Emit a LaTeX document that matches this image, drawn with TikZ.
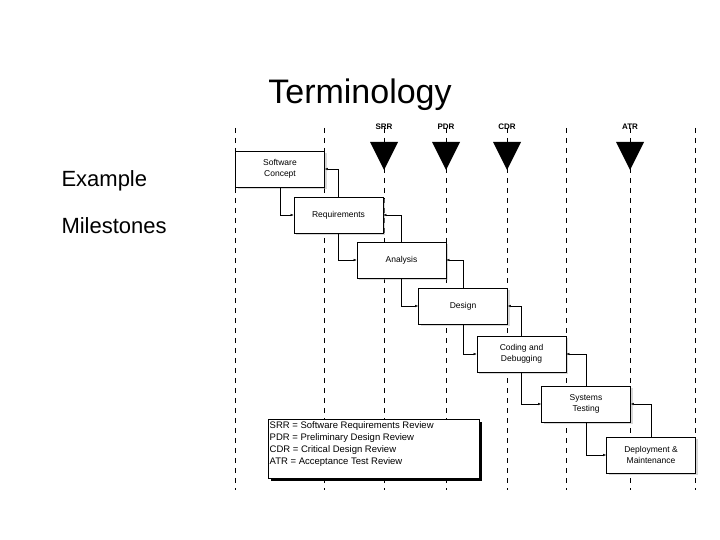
\documentclass[tikz,border=0pt]{standalone}
\usepackage{fontspec}
\setmainfont{Liberation Sans}
\usetikzlibrary{shadows,arrows.meta}
\begin{document}
\begin{tikzpicture}[x=1pt,y=-1pt,
  box/.style={draw,thick,fill=white,minimum width=89pt,minimum height=36pt,inner sep=1pt,font=\fontsize{8.5}{11}\selectfont,align=center,
    drop shadow={fill=gray!60,shadow xshift=2pt,shadow yshift=-2pt}},
  dl/.style={dashed,dash pattern=on 5pt off 5pt,thin},
  con/.style={thin,-{Latex[length=3pt,width=2.5pt]}},
  tri/.style={fill=black},
  ml/.style={font=\bfseries\fontsize{8}{9}\selectfont}]
\useasboundingbox (0,0) rectangle (720,540);
\foreach \x in {235,324,384,446,507,566,630,695} \draw[dl] (\x,128) -- (\x,490);
\foreach \x/\t in {384/SRR,446/PDR,507/CDR,630/ATR}{
  \fill[tri] (\x-14,142) -- (\x+14,142) -- (\x,170) -- cycle;
  \node[ml] at (\x,127) {\t};}
\node[font=\fontsize{34}{38}\selectfont] (title) at (360,95) {Terminology};
\node[font=\fontsize{22}{26}\selectfont,anchor=west] (ex) at (58,181) {Example};
\node[font=\fontsize{22}{26}\selectfont,anchor=west] (mi) at (58,226) {Milestones};
\node[box] (sc) at (280,169) {Software\\Concept};
\node[box] (rq) at (338.5,215) {Requirements};
\node[box] (an) at (401.5,260) {Analysis};
\node[box] (de) at (463,306) {Design};
\node[box] (co) at (521.5,354) {Coding and\\Debugging};
\node[box] (st) at (586,404) {Systems\\Testing};
\node[box] (dm) at (651,455) {Deployment \&\\Maintenance};
\foreach \a/\b in {sc/rq,rq/an,an/de,de/co,co/st,st/dm}{
  \draw[con] (\a.south) |- (\b.west);
  \draw[con] (\b.north) |- (\a.east);}
\fill (271,422) rectangle (482,481);
\node[draw,thick,fill=white,minimum width=211pt,minimum height=59pt,anchor=north west,inner sep=2pt] (lg) at (268,419) {};
\node[anchor=north west,align=left,inner sep=1.5pt,font=\fontsize{9.5}{12}\selectfont] (lt) at (268,420) {SRR = Software Requirements Review\\PDR = Preliminary Design Review\\CDR = Critical Design Review\\ATR = Acceptance Test Review};
\end{tikzpicture}
\end{document}
